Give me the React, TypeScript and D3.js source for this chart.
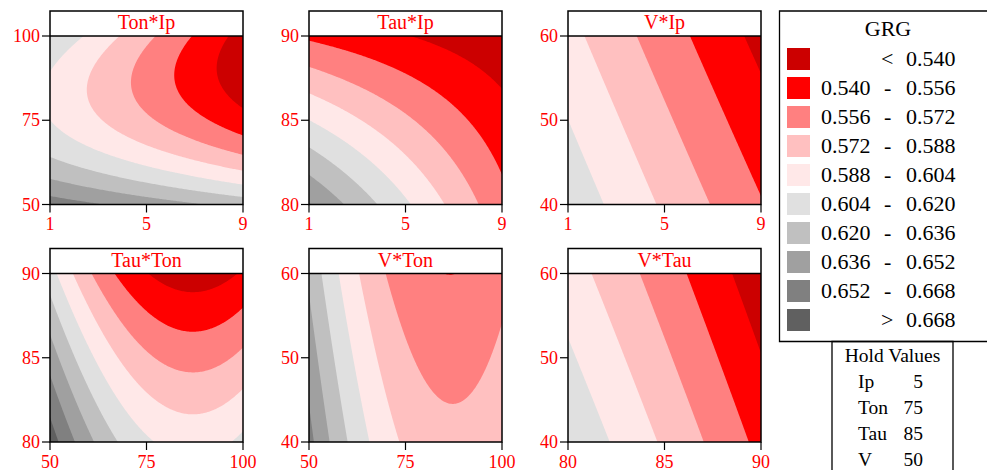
import React from "react";
import * as d3 from "d3";

// Factors (natural units) and hold values
const FACTORS = ["Ip", "Ton", "Tau", "V"];
const LOWS = [1, 50, 80, 40];
const HIGHS = [9, 100, 90, 60];
const HOLDS = [5, 75, 85, 50];
const FACTOR_TICKS = [
  [1, 5, 9],
  [50, 75, 100],
  [80, 85, 90],
  [40, 50, 60],
];

// Response surface for GRG (coded units), estimated from the contour picture
const INTERCEPT = 0.5746;
const LINEAR = [-0.029, -0.0346, -0.033, -0.011];
const QUADRATIC = [0.0005, 0.036, -0.001, 0];
const INTERACTION_PAIRS = [
  [0, 1],
  [0, 2],
  [0, 3],
  [1, 2],
  [1, 3],
  [2, 3],
];
const INTERACTION_COEFS = [-0.0137, 0.017, 0, 0, 0.0012, 0];

// Panels: [x factor, y factor], title
const PANEL_X = [0, 0, 0, 1, 1, 2];
const PANEL_Y = [1, 2, 3, 2, 3, 3];
const PANEL_TITLES = ["Ton*Ip", "Tau*Ip", "V*Ip", "Tau*Ton", "V*Ton", "V*Tau"];

// Contour levels and colours
const THRESHOLDS = [0.54, 0.556, 0.572, 0.588, 0.604, 0.62, 0.636, 0.652, 0.668];
const BAND_COLORS = [
  "#CC0000",
  "#FF0000",
  "#FF8080",
  "#FFC0C0",
  "#FFE8E8",
  "#E0E0E0",
  "#C0C0C0",
  "#A0A0A0",
  "#808080",
  "#606060",
];
const LEGEND_LOW = ["", "0.540", "0.556", "0.572", "0.588", "0.604", "0.620", "0.636", "0.652", ""];
const LEGEND_SEP = ["<", "-", "-", "-", "-", "-", "-", "-", "-", ">"];
const LEGEND_HIGH = ["0.540", "0.556", "0.572", "0.588", "0.604", "0.620", "0.636", "0.652", "0.668", "0.668"];

const W = 987;
const H = 470;
const COL_LEFT = [50, 309, 568];
const PLOT_W = 193;
const ROW_TOP = [36, 273.5];
const PLOT_H = 168.5;
const TITLE_H = 25;
const FONT = "'Liberation Serif', 'Times New Roman', serif";
const RED = "#FF0000";

function coded(k: number, v: number) {
  const mid = (LOWS[k] + HIGHS[k]) / 2;
  const half = (HIGHS[k] - LOWS[k]) / 2;
  return (v - mid) / half;
}

function grg(values: number[]) {
  const c = values.map((v, k) => coded(k, v));
  let y = INTERCEPT;
  for (let k = 0; k < 4; k++) y += LINEAR[k] * c[k] + QUADRATIC[k] * c[k] * c[k];
  INTERACTION_PAIRS.forEach(([a, b], i) => {
    y += INTERACTION_COEFS[i] * c[a] * c[b];
  });
  return y;
}

const N = 160;

function Panel({ idx }: { idx: number }) {
  const fx = PANEL_X[idx];
  const fy = PANEL_Y[idx];
  const left = COL_LEFT[idx % 3];
  const top = ROW_TOP[Math.floor(idx / 3)];
  const sx = d3.scaleLinear().domain([LOWS[fx], HIGHS[fx]]).range([left, left + PLOT_W]);
  const sy = d3.scaleLinear().domain([LOWS[fy], HIGHS[fy]]).range([top + PLOT_H, top]);

  const values = new Array(N * N);
  for (let j = 0; j < N; j++) {
    const yv = HIGHS[fy] - (j / (N - 1)) * (HIGHS[fy] - LOWS[fy]);
    for (let i = 0; i < N; i++) {
      const xv = LOWS[fx] + (i / (N - 1)) * (HIGHS[fx] - LOWS[fx]);
      const p = HOLDS.slice();
      p[fx] = xv;
      p[fy] = yv;
      values[i + j * N] = grg(p);
    }
  }
  const contours = d3.contours().size([N, N]).thresholds(THRESHOLDS)(values);
  const proj = d3.geoTransform({
    point(u: number, v: number) {
      const xv = LOWS[fx] + ((u - 0.5) / (N - 1)) * (HIGHS[fx] - LOWS[fx]);
      const yv = HIGHS[fy] - ((v - 0.5) / (N - 1)) * (HIGHS[fy] - LOWS[fy]);
      (this as any).stream.point(sx(xv), sy(yv));
    },
  });
  const path = d3.geoPath(proj);
  const clipId = `clip${idx}`;
  const bottom = top + PLOT_H;
  return (
    <g>
      <defs>
        <clipPath id={clipId}>
          <rect x={left} y={top} width={PLOT_W} height={PLOT_H} />
        </clipPath>
      </defs>
      <g clipPath={`url(#${clipId})`}>
        <rect x={left} y={top} width={PLOT_W} height={PLOT_H} fill={BAND_COLORS[0]} />
        {contours.map((c, i) => (
          <path key={i} d={path(c as any) || ""} fill={BAND_COLORS[i + 1]} stroke="none" />
        ))}
      </g>
      <rect
        x={left}
        y={top - TITLE_H}
        width={PLOT_W}
        height={TITLE_H + PLOT_H}
        fill="none"
        stroke="#000"
        strokeWidth={1.5}
      />
      <line x1={left} x2={left + PLOT_W} y1={top} y2={top} stroke="#000" strokeWidth={1.5} />
      <text x={left + PLOT_W / 2} y={top - 7} textAnchor="middle" fontSize={20} fill={RED} fontFamily={FONT}>
        {PANEL_TITLES[idx]}
      </text>
      {FACTOR_TICKS[fx].map((t) => (
        <g key={"x" + t}>
          <line x1={sx(t)} x2={sx(t)} y1={bottom} y2={bottom + 8} stroke="#000" strokeWidth={1.2} />
          <text x={sx(t)} y={bottom + 25.5} textAnchor="middle" fontSize={18} fill={RED} fontFamily={FONT}>
            {t}
          </text>
        </g>
      ))}
      {FACTOR_TICKS[fy].map((t) => (
        <g key={"y" + t}>
          <line x1={left - 8} x2={left} y1={sy(t)} y2={sy(t)} stroke="#000" strokeWidth={1.2} />
          <text x={left - 10} y={sy(t) + 6} textAnchor="end" fontSize={18} fill={RED} fontFamily={FONT}>
            {t}
          </text>
        </g>
      ))}
    </g>
  );
}

function Legend() {
  return (
    <g fontFamily={FONT} fill="#000">
      <path d={`M${W + 5},11 H779.5 V341.5 H${W + 5}`} fill="none" stroke="#000" strokeWidth={1.3} />
      <text x={888} y={36} textAnchor="middle" fontSize={22}>
        GRG
      </text>
      {BAND_COLORS.map((c, i) => {
        const y0 = 48 + i * 29;
        return (
          <g key={i}>
            <rect x={787} y={y0} width={23} height={22} fill={c} />
            {LEGEND_LOW[i] && (
              <text x={821} y={y0 + 18} fontSize={22}>
                {LEGEND_LOW[i]}
              </text>
            )}
            <text x={i === 0 || i === 9 ? 881 : 884} y={y0 + 18} fontSize={22}>
              {LEGEND_SEP[i]}
            </text>
            <text x={906} y={y0 + 18} fontSize={22}>
              {LEGEND_HIGH[i]}
            </text>
          </g>
        );
      })}
      <path d={`M832,${H + 5} V341.5 H953 V${H + 5}`} fill="none" stroke="#000" strokeWidth={1.3} />
      <text x={892.5} y={362} textAnchor="middle" fontSize={19.5}>
        Hold Values
      </text>
      {FACTORS.map((f, i) => (
        <g key={f}>
          <text x={858} y={388 + i * 26} fontSize={19.5}>
            {f}
          </text>
          <text x={923} y={388 + i * 26} fontSize={19.5} textAnchor="end">
            {HOLDS[i]}
          </text>
        </g>
      ))}
    </g>
  );
}

export default function App() {
  return (
    <svg
      width={W}
      height={H}
      style={{ position: "absolute", left: 0, top: 0, background: "#fff" }}
      xmlns="http://www.w3.org/2000/svg"
    >
      <rect x={0} y={0} width={W} height={H} fill="#fff" />
      {PANEL_TITLES.map((_, i) => (
        <Panel key={i} idx={i} />
      ))}
      <Legend />
    </svg>
  );
}
